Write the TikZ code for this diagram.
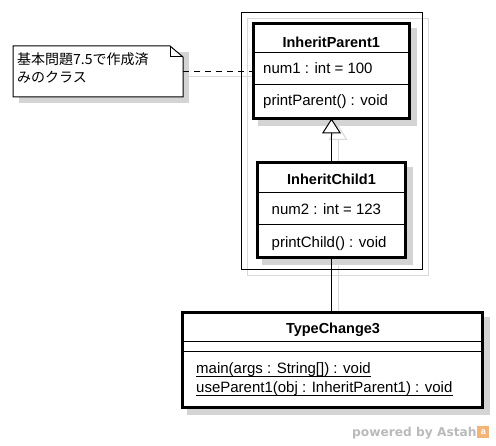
\documentclass[tikz,border=0pt]{standalone}
\usepackage{fontspec}
\setmainfont{Liberation Sans}
\newfontfamily\jpfont{Noto Sans CJK JP}
\newfontfamily\wmfont{DejaVu Sans}
\usetikzlibrary{arrows.meta}
\definecolor{shadowgrey}{gray}{0.83}
\definecolor{shadowline}{gray}{0.85}
\definecolor{logoorange}{RGB}{242,180,120}
\begin{document}
\begin{tikzpicture}[x=1pt,y=-1pt,
  classbox/.style={draw=black, line width=3pt, fill=white, inner sep=0pt, outer sep=0pt},
  shadowbox/.style={fill=shadowgrey, draw=none},
  classtitle/.style={font=\fontsize{14.5}{17}\selectfont\bfseries, anchor=base, inner sep=0pt},
  member/.style={font=\fontsize{15}{18}\selectfont, anchor=base west, inner sep=0pt},
  notetext/.style={font=\jpfont\fontsize{14}{17}\selectfont, anchor=base west, inner sep=0pt},
  divider/.style={line width=1pt},
  shline/.style={draw=shadowline, line width=1pt},
  gentip/.style={-{Triangle[length=15pt,width=19pt,fill=white]}},
]
\useasboundingbox (0,0) rectangle (496,446);
\fill[white] (0,0) rectangle (496,446);

% frame shadow and connector shadows
\draw[shline] (247,19) rectangle (428,276);
\fill[shadowbox] (19,52) rectangle (189,103);
\fill[shadowbox] (257.5,28) rectangle (417,126);
\fill[shadowbox] (262,167.5) rectangle (413,265.5);
\fill[shadowbox] (187,317) rectangle (489.5,415);
\coordinate (gs1) at (338,167);
\coordinate (gs2) at (338,125);
\draw[shline, gentip] (gs1) -- (gs2);
\coordinate (as1) at (338,266);
\coordinate (as2) at (338,317);
\draw[shline] (as1) -- (as2);
\coordinate (ds1) at (189,77);
\coordinate (ds2) at (257,77);
\draw[shline] (ds1) -- (ds2);

% frame
\draw[line width=1pt] (241,13) rectangle (422,270);

% note
\node[minimum width=170pt, minimum height=51pt, inner sep=0pt, outer sep=0pt] (note) at (98,71.5) {};
\draw[fill=white, line width=1pt] (note.south west) -- (note.north west) -- ([xshift=-13pt]note.north east)
  -- ([yshift=-11pt]note.north east) -- (note.south east) -- cycle;
\draw[line width=1pt] ([xshift=-13pt]note.north east) -- ([xshift=-13pt,yshift=-11pt]note.north east)
  -- ([yshift=-11pt]note.north east);
\node[notetext] (n1) at (17,65) {基本問題7.5で作成済};
\node[notetext] (n2) at (17,83) {みのクラス};

% InheritParent1
\node[classbox, minimum width=156.5pt, minimum height=95pt] (parent) at (331.25,71) {};
\draw[divider] (parent.west |- 0,53) -- (parent.east |- 0,53);
\draw[divider] (parent.west |- 0,85) -- (parent.east |- 0,85);
\node[classtitle] (pt) at (331.25,48) {InheritParent1};
\node[member] (pa) at (263,73.5) {num1 : int = 100};
\node[member] (po) at (263,106) {printParent() : void};

% InheritChild1
\node[classbox, minimum width=148pt, minimum height=95pt] (child) at (331.5,210.5) {};
\draw[divider] (child.west |- 0,192.5) -- (child.east |- 0,192.5);
\draw[divider] (child.west |- 0,224.5) -- (child.east |- 0,224.5);
\node[classtitle] (ct) at (331.5,185) {InheritChild1};
\node[member] (ca) at (271.5,215) {num2 : int = 123};
\node[member] (co) at (271.5,247.5) {printChild() : void};

% TypeChange3
\node[classbox, minimum width=299.5pt, minimum height=95pt] (tc) at (332.25,360) {};
\draw[divider] (tc.west |- 0,341.5) -- (tc.east |- 0,341.5);
\draw[divider] (tc.west |- 0,351.5) -- (tc.east |- 0,351.5);
\node[classtitle] (tt) at (333,334) {TypeChange3};
\node[member] (m1) at (196,374) {main(args : String[]) : void};
\node[member] (m2) at (196,393) {useParent1(obj : InheritParent1) : void};
\draw[line width=0.9pt] ([yshift=-2pt]m1.base west) -- ([yshift=-2pt]m1.base east);
\draw[line width=0.9pt] ([yshift=-2pt]m2.base west) -- ([yshift=-2pt]m2.base east);

% connectors
\draw[line width=1pt, dash pattern=on 6pt off 5pt] (note.east) -- (parent.west |- note.east);
\draw[line width=1pt, gentip] (child.north) -- (child.north |- parent.south);
\draw[line width=1pt] (child.south) -- (child.south |- tc.north);

% watermark
\node[font=\wmfont\bfseries\fontsize{12.2}{14}\selectfont, text=black!27, anchor=base west, inner sep=0pt] (wm) at (352,437) {powered by Astah};
\node[fill=logoorange, minimum size=12pt, inner sep=0pt, anchor=south west,
  font=\bfseries\fontsize{9}{9}\selectfont, text=white] (logo) at ([xshift=0.5pt,yshift=-1.5pt]wm.base east) {a};
\end{tikzpicture}
\end{document}
